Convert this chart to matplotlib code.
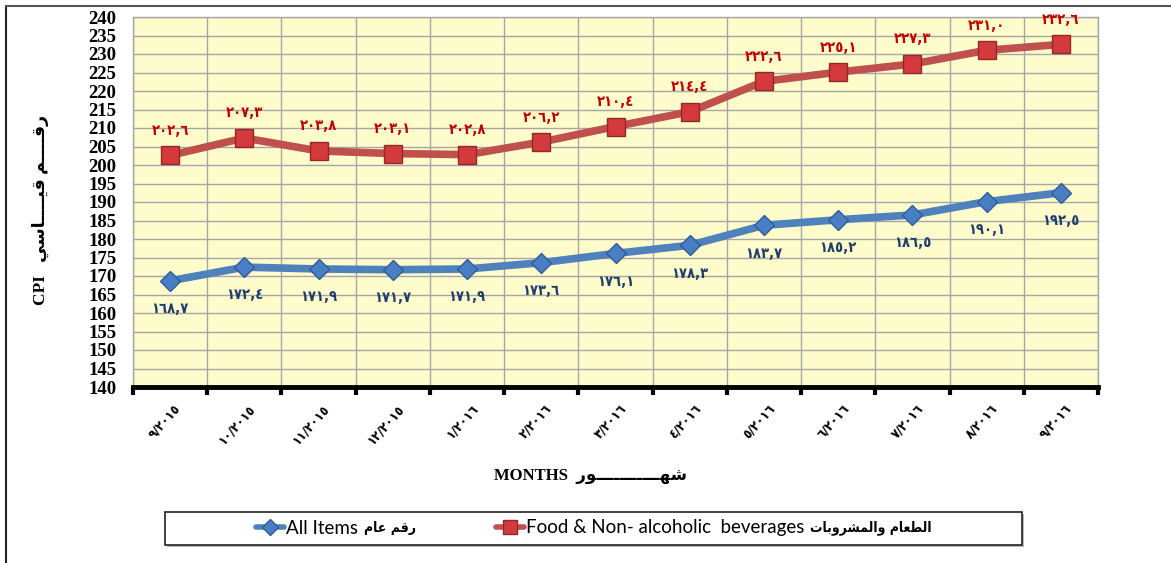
import matplotlib
matplotlib.use("Agg")
import matplotlib.pyplot as plt
from matplotlib.patches import Rectangle
from matplotlib.lines import Line2D

# ---------------- data ----------------
months = [9, 10, 11, 12, 1, 2, 3, 4, 5, 6, 7, 8, 9]
years = [2015, 2015, 2015, 2015, 2016, 2016, 2016, 2016, 2016, 2016, 2016, 2016, 2016]
food = [202.6, 207.3, 203.8, 203.1, 202.8, 206.2, 210.4, 214.4, 222.6, 225.1, 227.3, 231.0, 232.6]
all_items = [168.7, 172.4, 171.9, 171.7, 171.9, 173.6, 176.1, 178.3, 183.7, 185.2, 186.5, 190.1, 192.5]
y_ticks = list(range(140, 241, 5))
series_names_en = ["All Items", "Food & Non- alcoholic  beverages"]
series_names_ar = ["رقم عام", "الطعام والمشروبات"]

# ---------------- simple Arabic shaping ----------------
FORMS = {
    'ا': ('\uFE8D', '\uFE8E', None, None),
    'ب': ('\uFE8F', '\uFE90', '\uFE91', '\uFE92'),
    'ت': ('\uFE95', '\uFE96', '\uFE97', '\uFE98'),
    'ر': ('\uFEAD', '\uFEAE', None, None),
    'س': ('\uFEB1', '\uFEB2', '\uFEB3', '\uFEB4'),
    'ش': ('\uFEB5', '\uFEB6', '\uFEB7', '\uFEB8'),
    'ط': ('\uFEC1', '\uFEC2', '\uFEC3', '\uFEC4'),
    'ع': ('\uFEC9', '\uFECA', '\uFECB', '\uFECC'),
    'ق': ('\uFED5', '\uFED6', '\uFED7', '\uFED8'),
    'ل': ('\uFEDD', '\uFEDE', '\uFEDF', '\uFEE0'),
    'م': ('\uFEE1', '\uFEE2', '\uFEE3', '\uFEE4'),
    'ه': ('\uFEE9', '\uFEEA', '\uFEEB', '\uFEEC'),
    'و': ('\uFEED', '\uFEEE', None, None),
    'ي': ('\uFEF1', '\uFEF2', '\uFEF3', '\uFEF4'),
}
TATWEEL = 'ـ'


def dual(c):
    return c == TATWEEL or (c in FORMS and FORMS[c][2] is not None)


def is_ar(c):
    return c == TATWEEL or c in FORMS


def shape(text):
    out = []
    for i, c in enumerate(text):
        if c not in FORMS:
            out.append(c)
            continue
        prev = text[i - 1] if i > 0 else ''
        nxt = text[i + 1] if i + 1 < len(text) else ''
        jp = bool(prev) and dual(prev)
        jn = dual(c) and bool(nxt) and is_ar(nxt)
        iso, fin, ini, med = FORMS[c]
        if jp and jn:
            out.append(med)
        elif jp:
            out.append(fin)
        elif jn:
            out.append(ini)
        else:
            out.append(iso)
    return ''.join(out)[::-1]


AR_DIG = str.maketrans('0123456789', '٠١٢٣٤٥٦٧٨٩')


def ar_num(s):
    return s.translate(AR_DIG)


x_labels = [ar_num(f"{m}/{y}") for m, y in zip(months, years)]

# ---------------- figure ----------------
W, H = 1171, 563
fig = plt.figure(figsize=(W / 100, H / 100), dpi=100)
fig.patch.set_facecolor('white')

ax = fig.add_axes([133 / W, 1 - 387 / H, (1098 - 133) / W, (387 - 17) / H])
ax.set_facecolor('#FEFCCB')

x = list(range(len(months)))
ax.set_xlim(-0.5, len(months) - 0.5)
ax.set_ylim(140, 240)

SERIF = ['Liberation Serif', 'DejaVu Sans']
SANS = ['Lato', 'DejaVu Sans']
LABEL_FONT = dict(fontfamily=['DejaVu Sans'], fontweight='bold', fontstretch='condensed')

# grid
ax.set_yticks(y_ticks)
ax.set_yticklabels([str(t) for t in y_ticks], fontfamily=SERIF, fontweight='bold', fontsize=13.5)
ax.set_xticks([i - 0.5 for i in range(len(months) + 1)])
ax.set_xticklabels([])
ax.grid(True, color='#A6A6A6', linewidth=1.0, zorder=0)
ax.set_axisbelow(True)
ax.tick_params(axis='y', length=0, pad=12)
ax.tick_params(axis='x', direction='out', length=6, width=3, color='black')

for s in ['left', 'right', 'top']:
    ax.spines[s].set_color('#A6A6A6')
    ax.spines[s].set_linewidth(1.0)
ax.spines['bottom'].set_color('black')
ax.spines['bottom'].set_linewidth(3.5)

# x labels (between ticks)
for xi, lab in zip(x, x_labels):
    ax.annotate(lab, xy=(xi + 0.05, 140), xytext=(0, -11), textcoords='offset points',
                rotation=48, ha='right', va='top', rotation_mode='anchor',
                fontsize=9.5, annotation_clip=False, **LABEL_FONT)

# lines
food_c = '#C0504D'
blue_c = '#4F81BD'
l_food, = ax.plot(x, food, color=food_c, linewidth=5.5, marker='s', markersize=13,
                  markerfacecolor='#D4393C', markeredgecolor='#8E2A28', markeredgewidth=1.0,
                  zorder=3, solid_capstyle='round')
l_all, = ax.plot(x, all_items, color=blue_c, linewidth=5.5, marker='D', markersize=10.5,
                 markerfacecolor='#4A7EC4', markeredgecolor='#2F5C98', markeredgewidth=1.0,
                 zorder=3, solid_capstyle='round')

# data labels
for xi, v in zip(x, food):
    ax.annotate(ar_num(f"{v:.1f}".replace('.', ',')), xy=(xi, v), xytext=(0, 18),
                textcoords='offset points', ha='center', va='center',
                fontsize=10.5, color='#C00000', annotation_clip=False, **LABEL_FONT)
for xi, v in zip(x, all_items):
    ax.annotate(ar_num(f"{v:.1f}".replace('.', ',')), xy=(xi, v), xytext=(0, -20),
                textcoords='offset points', ha='center', va='center',
                fontsize=10.5, color='#1F3C6E', annotation_clip=False, **LABEL_FONT)

# axis titles
fig.text(40 / W, 1 - 210 / H, "CPI   " + shape("رقــــم قيــــاسي"), rotation=90,
         ha='center', va='center', fontfamily=SERIF, fontweight='bold', fontsize=12.5)
fig.text(590 / W, 1 - 476 / H, "MONTHS  " + shape("شهـــــــــــور"),
         ha='center', va='center', fontfamily=SERIF, fontweight='bold', fontsize=12)

# outer border
fig.add_artist(Line2D([6 / W, 6 / W], [0, 1 - 6 / H], color='#222222', linewidth=1.5,
                      transform=fig.transFigure))
fig.add_artist(Line2D([6 / W, 1], [1 - 6 / H, 1 - 6 / H], color='#555555', linewidth=1.5,
                      transform=fig.transFigure))

# legend box
fig.add_artist(Rectangle((167 / W, 1 - 547 / H), (1022 - 165) / W, (545 - 512) / H,
                         transform=fig.transFigure, facecolor='#BBBBBB', edgecolor='none'))
fig.add_artist(Rectangle((165 / W, 1 - 545 / H), (1022 - 165) / W, (545 - 512) / H,
                         transform=fig.transFigure, facecolor='white', edgecolor='#222222',
                         linewidth=1.2))

# legend: English labels via legend, bold Arabic placed after each label
LEG_FS = 13.5
fs_px = LEG_FS * 100 / 72
ar_texts = [fig.text(0, 0, shape(t), fontfamily=['DejaVu Sans'], fontweight='bold',
                     fontstretch='condensed', fontsize=10, ha='left', va='center')
            for t in series_names_ar]
fig.canvas.draw()
r = fig.canvas.get_renderer()
ar_w = [t.get_window_extent(r).width for t in ar_texts]
gap_px = 6
col_gap_px = 80
leg_cy = 1 - 528 / H
group_cx = 594
leg = fig.legend([l_all, l_food], series_names_en, loc='center',
                 bbox_to_anchor=((group_cx - (ar_w[1] + gap_px) / 2) / W, leg_cy), ncol=2,
                 frameon=False, handlelength=1.5,
                 columnspacing=(ar_w[0] + gap_px + col_gap_px) / fs_px, handletextpad=0.1,
                 markerscale=0.8, prop={'family': SANS, 'size': LEG_FS})
for h in leg.legend_handles:
    h.set_linewidth(4)
fig.canvas.draw()
for lt, at in zip(leg.get_texts(), ar_texts):
    bb = lt.get_window_extent(r)
    at.set_position(((bb.x1 + gap_px) / W, leg_cy))

fig.savefig('out.png', dpi=100)
